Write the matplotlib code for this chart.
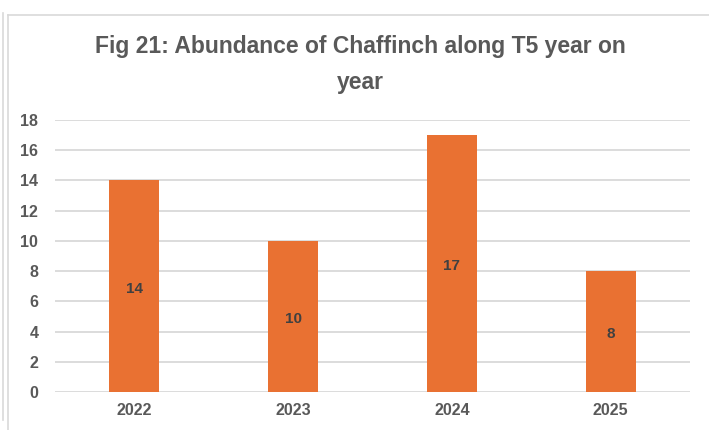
import matplotlib.pyplot as plt
from matplotlib.lines import Line2D

years = ["2022", "2023", "2024", "2025"]
counts = [14, 10, 17, 8]
yticks = [0, 2, 4, 6, 8, 10, 12, 14, 16, 18]

plt.rcParams['font.family'] = ['Liberation Sans', 'DejaVu Sans']

fig = plt.figure(figsize=(7.09, 4.30), dpi=100)
ax = fig.add_axes([55 / 709, 38 / 430, 635 / 709, 272 / 430])

x = range(len(years))
bars = ax.bar(x, counts, width=0.315, color='#E97132', zorder=3)
for b, v in zip(bars, counts):
    ax.annotate(str(v), (b.get_x() + b.get_width() / 2, v / 2), xytext=(0, -2),
                textcoords='offset points', ha='center', va='center',
                fontsize=11, fontweight='bold', color='#404040', zorder=4)

ax.set_xlim(-0.5, len(years) - 0.5)
ax.set_ylim(0, 18)
ax.set_yticks(yticks)
ax.set_xticks(list(x))
ax.set_xticklabels(years)
ax.yaxis.grid(True, color='#D9D9D9', linewidth=1.3, zorder=0)
for s in ax.spines.values():
    s.set_visible(False)
ax.tick_params(length=0, colors='#595959', labelsize=11.5)
ax.tick_params(axis='y', pad=12)
ax.tick_params(axis='x', pad=8)
for lab in ax.get_xticklabels() + ax.get_yticklabels():
    lab.set_fontweight('bold')

fig.text(360 / 709, 1 - 47 / 430, "Fig 21: Abundance of Chaffinch along T5 year on",
         ha='center', va='center', fontsize=16.5, fontweight='bold', color='#595959')
fig.text(360 / 709, 1 - 82 / 430, "year", ha='center', va='center',
         fontsize=16.5, fontweight='bold', color='#595959')

# frame lines
fig.add_artist(Line2D([3 / 709, 3 / 709], [1 - 13 / 430, 1 - 420 / 430], color='#D9D9D9', lw=1.2))
fig.add_artist(Line2D([8 / 709, 8 / 709], [1 - 15 / 430, 0], color='#D9D9D9', lw=1.2))
fig.add_artist(Line2D([8 / 709, 1], [1 - 15 / 430, 1 - 15 / 430], color='#D9D9D9', lw=1.2))

fig.savefig("out.png", dpi=100)
